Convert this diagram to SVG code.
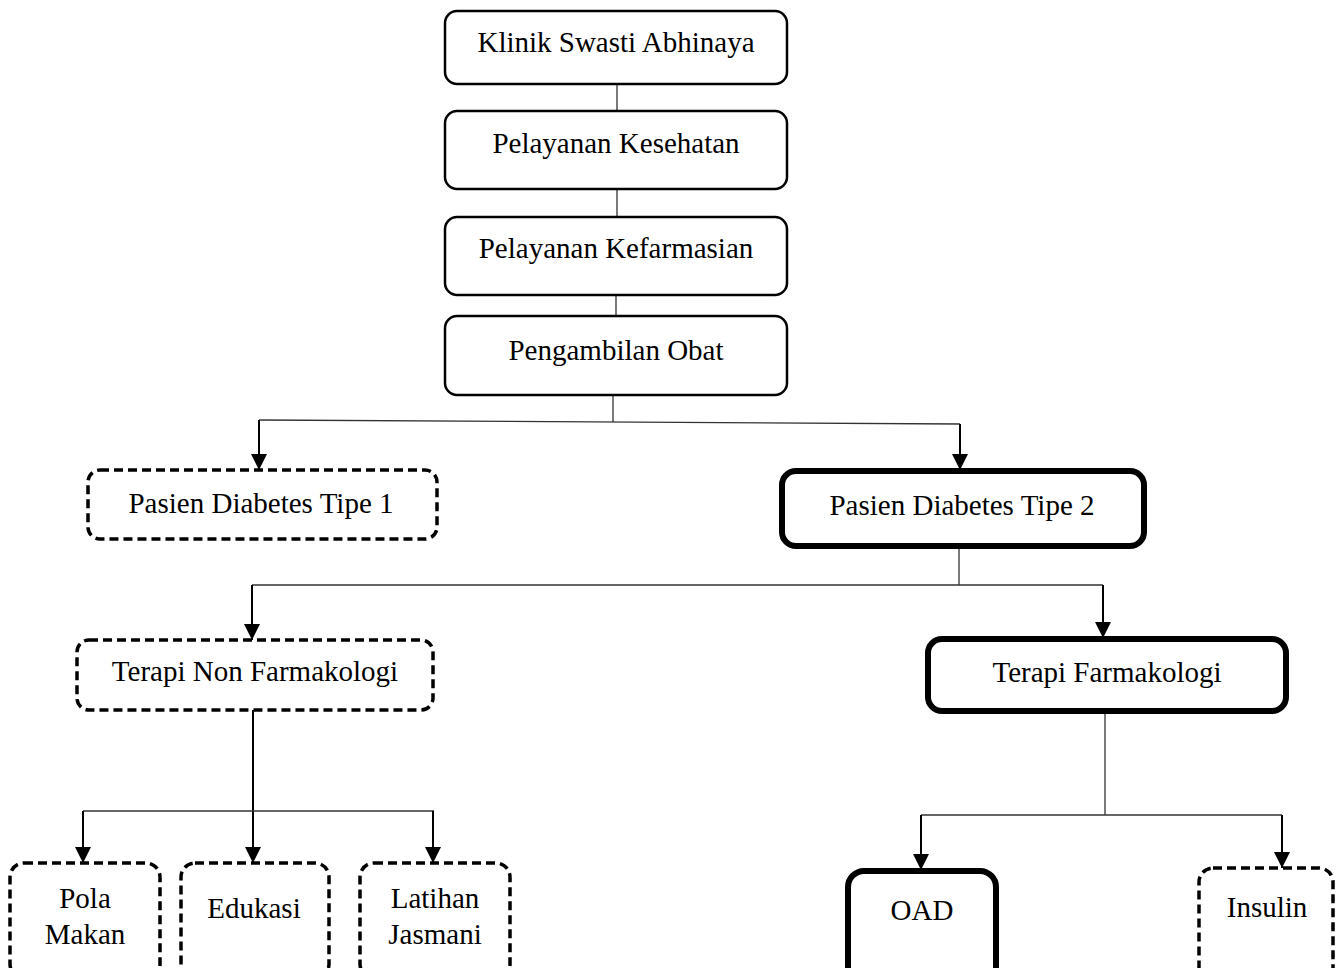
<svg xmlns="http://www.w3.org/2000/svg" width="1344" height="968" viewBox="0 0 1344 968">
<style>
  text { font-family: "Liberation Serif", "Times New Roman", serif; font-size: 29px; fill: #000; text-anchor: middle; }
  .solid { fill: #fff; stroke: #000; stroke-width: 2.5; }
  .dash { fill: #fff; stroke: #000; stroke-width: 3.5; stroke-dasharray: 9 5; }
  .thick { fill: #fff; stroke: #000; stroke-width: 6; }
  .thin { fill: none; stroke: #333; stroke-width: 1.3; }
  .arr { fill: none; stroke: #000; stroke-width: 2; marker-end: url(#ah); }
</style>
<defs>
  <marker id="ah" markerUnits="userSpaceOnUse" markerWidth="16" markerHeight="16" viewBox="0 0 10 10" refX="10" refY="5" orient="auto">
    <path d="M0,0 L10,5 L0,10 z" fill="#000"/>
  </marker>
</defs>
<rect width="1344" height="968" fill="#fff"/>
<g id="connectors">
  <line class="thin" x1="617" y1="84" x2="617" y2="111"/>
  <line class="thin" x1="617" y1="189" x2="617" y2="217"/>
  <line class="thin" x1="616" y1="295" x2="616" y2="316"/>
  <line class="thin" x1="613" y1="395" x2="613" y2="422"/>
  <polyline class="thin" points="259,420 960,424"/>
  <line class="arr" x1="259" y1="420" x2="259" y2="470"/>
  <line class="arr" x1="960" y1="424" x2="960" y2="470"/>
  <line class="thin" x1="959" y1="547" x2="959" y2="585"/>
  <line class="thin" x1="252" y1="585" x2="1103" y2="585"/>
  <line class="arr" x1="252" y1="585" x2="252" y2="640"/>
  <line class="arr" x1="1103" y1="585" x2="1103" y2="638"/>
  <line class="arr" x1="253" y1="710" x2="253" y2="863"/>
  <line class="thin" x1="83" y1="811" x2="434" y2="811"/>
  <line class="arr" x1="83" y1="811" x2="83" y2="863"/>
  <line class="arr" x1="433" y1="811" x2="433" y2="863"/>
  <line class="thin" x1="1105" y1="712" x2="1105" y2="815"/>
  <line class="thin" x1="921" y1="815" x2="1282" y2="815"/>
  <line class="arr" x1="921" y1="815" x2="921" y2="870"/>
  <line class="arr" x1="1282" y1="815" x2="1282" y2="868"/>
</g>
<g id="klinik">
  <rect class="solid" x="445" y="11" width="342" height="73" rx="12"/>
  <text x="616" y="52">Klinik Swasti Abhinaya</text>
</g>
<g id="pelayanan-kesehatan">
  <rect class="solid" x="445" y="111" width="342" height="78" rx="12"/>
  <text x="616" y="153">Pelayanan Kesehatan</text>
</g>
<g id="pelayanan-kefarmasian">
  <rect class="solid" x="445" y="217" width="342" height="78" rx="12"/>
  <text x="616" y="258">Pelayanan Kefarmasian</text>
</g>
<g id="pengambilan-obat">
  <rect class="solid" x="445" y="316" width="342" height="79" rx="12"/>
  <text x="616" y="360">Pengambilan Obat</text>
</g>
<g id="tipe1">
  <rect class="dash" x="88" y="470" width="349" height="69" rx="12"/>
  <text x="261" y="513">Pasien Diabetes Tipe 1</text>
</g>
<g id="tipe2">
  <rect class="thick" x="782" y="471" width="362" height="75" rx="14"/>
  <text x="962" y="515">Pasien Diabetes Tipe 2</text>
</g>
<g id="terapi-non">
  <rect class="dash" x="77" y="640" width="356" height="70" rx="12"/>
  <text x="255" y="681">Terapi Non Farmakologi</text>
</g>
<g id="terapi-farmakologi">
  <rect class="thick" x="928" y="639" width="358" height="72" rx="14"/>
  <text x="1107" y="682">Terapi Farmakologi</text>
</g>
<g id="pola-makan">
  <rect class="dash" x="10" y="863" width="150" height="115" rx="14"/>
  <text x="85" y="908">Pola</text>
  <text x="85" y="944">Makan</text>
</g>
<g id="edukasi">
  <rect class="dash" x="181" y="863" width="148" height="115" rx="14"/>
  <text x="254" y="918">Edukasi</text>
</g>
<g id="latihan-jasmani">
  <rect class="dash" x="360" y="863" width="150" height="115" rx="14"/>
  <text x="435" y="908">Latihan</text>
  <text x="435" y="944">Jasmani</text>
</g>
<g id="oad">
  <rect class="thick" x="848" y="871" width="148" height="115" rx="16"/>
  <text x="922" y="920">OAD</text>
</g>
<g id="insulin">
  <rect class="dash" x="1199" y="868" width="134" height="115" rx="14"/>
  <text x="1267" y="917">Insulin</text>
</g>
</svg>
